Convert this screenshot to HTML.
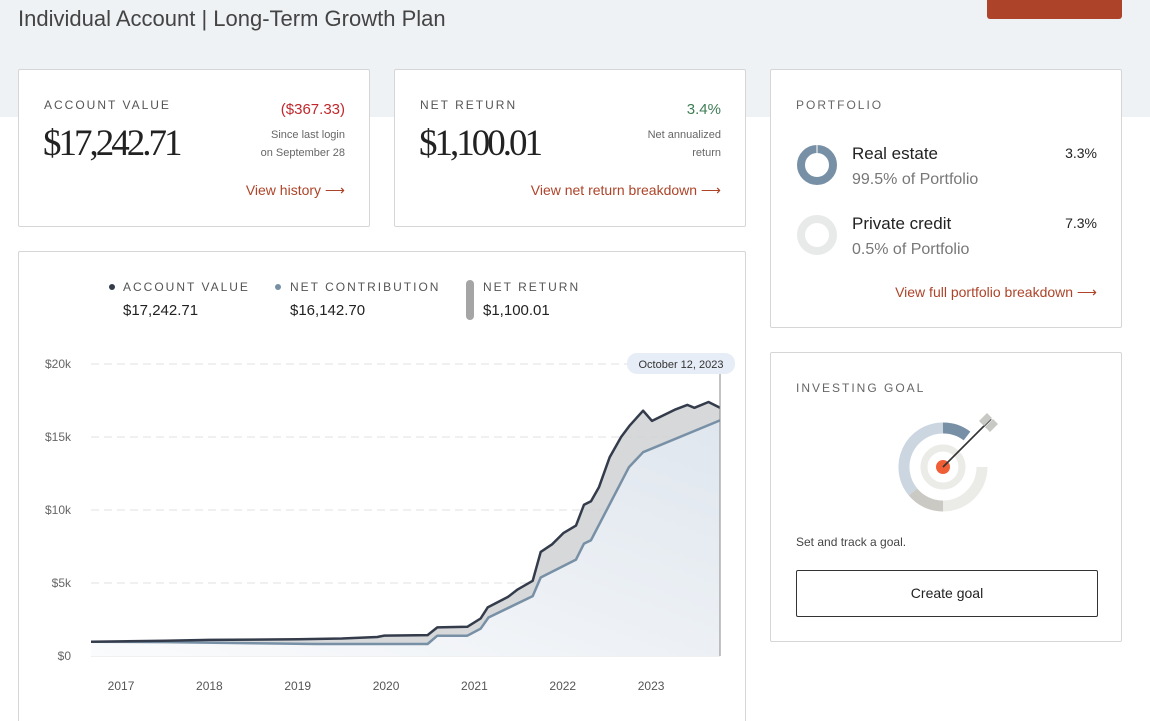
<!DOCTYPE html>
<html><head><meta charset="utf-8">
<style>
*{box-sizing:border-box;margin:0;padding:0}
html,body{width:1150px;height:721px;overflow:hidden}
body{background:#fff;font-family:"Liberation Sans",sans-serif;color:#222;position:relative}
.band{position:absolute;left:0;top:0;width:1150px;height:117px;background:#eef2f5}
.card{position:absolute;background:#fff;border:1px solid #d6d6d6;border-radius:2px}
.abs{position:absolute;white-space:nowrap}
.lbl{font-size:12px;letter-spacing:2px;color:#555}
.serif{font-family:"Liberation Serif",serif;letter-spacing:-3px;color:#222}
.link{color:#ad4429;font-size:14px}
.small{font-size:11px;color:#666;text-align:right}
</style></head><body>
<div class="band"></div>
<div class="abs" style="left:18px;top:6px;font-size:22px;color:#444;font-weight:300">Individual Account | Long-Term Growth Plan</div>
<div class="abs" style="left:987px;top:-10px;width:135px;height:29px;background:#ad4429;border-radius:3px"></div>

<div class="card" style="left:18px;top:69px;width:352px;height:158px">
 <div class="abs lbl" style="left:25px;top:28px">ACCOUNT VALUE</div>
 <div class="abs serif" style="left:24px;top:52px;font-size:37px">$17,242.71</div>
 <div class="abs" style="right:24px;top:31px;font-size:15px;color:#c0282c">($367.33)</div>
 <div class="abs small" style="right:24px;top:56px;line-height:18px">Since last login<br>on September 28</div>
 <div class="abs link" style="right:24px;top:112px">View history ⟶</div>
</div>
<div class="card" style="left:394px;top:69px;width:352px;height:158px">
 <div class="abs lbl" style="left:25px;top:28px">NET RETURN</div>
 <div class="abs serif" style="left:24px;top:52px;font-size:37px">$1,100.01</div>
 <div class="abs" style="right:24px;top:31px;font-size:15px;color:#3f7d55">3.4%</div>
 <div class="abs small" style="right:24px;top:56px;line-height:18px">Net annualized<br>return</div>
 <div class="abs link" style="right:24px;top:112px">View net return breakdown ⟶</div>
</div>

<div class="card" style="left:770px;top:69px;width:352px;height:259px">
 <div class="abs lbl" style="left:25px;top:28px;color:#666">PORTFOLIO</div>
 <svg class="abs" style="left:25px;top:74px" width="42" height="42"><circle cx="21" cy="21" r="16" fill="none" stroke="#7890a6" stroke-width="8"/><line x1="21" y1="0" x2="21" y2="9" stroke="#fff" stroke-width="1"/></svg>
 <div class="abs" style="left:81px;top:74px;font-size:17px;color:#222">Real estate</div>
 <div class="abs" style="left:81px;top:101px;font-size:16px;color:#777">99.5% of Portfolio</div>
 <div class="abs" style="right:24px;top:75px;font-size:14px">3.3%</div>
 <svg class="abs" style="left:25px;top:144px" width="42" height="42"><circle cx="21" cy="21" r="16" fill="none" stroke="#e8e9e9" stroke-width="8"/></svg>
 <div class="abs" style="left:81px;top:144px;font-size:17px;color:#222">Private credit</div>
 <div class="abs" style="left:81px;top:171px;font-size:16px;color:#777">0.5% of Portfolio</div>
 <div class="abs" style="right:24px;top:145px;font-size:14px">7.3%</div>
 <div class="abs link" style="right:24px;top:214px">View full portfolio breakdown ⟶</div>
</div>

<div class="card" style="left:770px;top:352px;width:352px;height:290px">
 <div class="abs lbl" style="left:25px;top:28px;color:#666">INVESTING GOAL</div>
 <svg class="abs" style="left:120px;top:60px" width="110" height="110">
  <g transform="translate(52,54)">
   <path d="M0,-39 A39,39 0 0 0 -30,25" fill="none" stroke="#ccd6e0" stroke-width="11"/>
   <path d="M0,-39 A39,39 0 0 1 24,-31" fill="none" stroke="#7890a6" stroke-width="11"/>
   <path d="M-30,25 A39,39 0 0 0 0,39" fill="none" stroke="#cbc9c4" stroke-width="11"/>
   <path d="M0,39 A39,39 0 0 0 39,0" fill="none" stroke="#ebebe8" stroke-width="11"/>
   <circle r="19" fill="none" stroke="#ebebe8" stroke-width="7"/>
   <circle r="7" fill="#ef5e35"/>
   <line x1="0" y1="0" x2="48" y2="-48" stroke="#333" stroke-width="1.6"/>
   <path d="M36,-46 l8,-8 5,5 -8,8 z M42,-40 l8,-8 5,5 -8,8z" fill="#c8c8c4"/>
  </g>
 </svg>
 <div class="abs" style="left:25px;top:182px;font-size:12px;color:#444">Set and track a goal.</div>
 <div class="abs" style="left:25px;top:217px;width:302px;height:47px;border:1px solid #333;border-radius:2px;text-align:center;line-height:45px;font-size:14px">Create goal</div>
</div>

<div class="card" style="left:18px;top:251px;width:728px;height:500px">
 <svg class="abs" style="left:88px;top:30px" width="10" height="10"><circle cx="5" cy="5" r="3" fill="#343c4c"/></svg>
 <div class="abs lbl" style="left:104px;top:28px">ACCOUNT VALUE</div>
 <div class="abs" style="left:104px;top:50px;font-size:15px">$17,242.71</div>
 <svg class="abs" style="left:254px;top:30px" width="10" height="10"><circle cx="5" cy="5" r="3" fill="#7890a6"/></svg>
 <div class="abs lbl" style="left:271px;top:28px">NET CONTRIBUTION</div>
 <div class="abs" style="left:271px;top:50px;font-size:15px">$16,142.70</div>
 <div class="abs" style="left:447px;top:28px;width:8px;height:40px;background:#a5a5a5;border-radius:4px"></div>
 <div class="abs lbl" style="left:464px;top:28px">NET RETURN</div>
 <div class="abs" style="left:464px;top:50px;font-size:15px">$1,100.01</div>
</div>

<svg id="chart" class="abs" style="left:0;top:0" width="1150" height="721">
 <defs><linearGradient id="g" x1="0" y1="1" x2="1" y2="0"><stop offset="0" stop-color="#fafbfc"/><stop offset="1" stop-color="#dfe6ee"/></linearGradient></defs>
</svg>
<script>
const avT=[2016.66,2017.5,2018,2018.5,2019,2019.5,2019.9,2019.98,2020.47,2020.58,2020.92,2021.07,2021.15,2021.38,2021.49,2021.66,2021.75,2021.88,2022.01,2022.15,2022.24,2022.32,2022.41,2022.53,2022.66,2022.76,2022.91,2023.01,2023.28,2023.41,2023.49,2023.65,2023.78];
const avV=[0.98,1.05,1.1,1.12,1.15,1.2,1.3,1.4,1.43,1.96,2.0,2.57,3.33,4.05,4.56,5.15,7.13,7.65,8.43,8.93,10.36,10.6,11.57,13.6,15.0,15.8,16.8,16.1,16.9,17.2,17.0,17.4,17.0];
const ncT=[2016.66,2017.5,2018.5,2019.2,2020.47,2020.58,2020.92,2021.07,2021.16,2021.66,2021.75,2022.15,2022.24,2022.32,2022.75,2022.91,2023.78];
const ncV=[0.98,0.95,0.88,0.82,0.82,1.39,1.39,1.87,2.64,4.1,5.38,6.6,7.7,7.93,12.94,13.96,16.14];
const yTicks=[0,5,10,15,20];
const yLabels=["$0","$5k","$10k","$15k","$20k"];
const xYears=[2017,2018,2019,2020,2021,2022,2023];
const X0=91,X1=720,T0=2016.66,T1=2023.78,Y0=656,Y1=364;
const sx=t=>X0+(t-T0)/(T1-T0)*(X1-X0);
const sy=v=>Y0-v/20*(Y0-Y1);
const svg=document.getElementById('chart');const NS='http://www.w3.org/2000/svg';
function mk(tag,attrs,txt){const e=document.createElementNS(NS,tag);for(const k in attrs)e.setAttribute(k,attrs[k]);if(txt!==undefined)e.textContent=txt;svg.appendChild(e);return e;}
yTicks.forEach((v,i)=>{
 const l=mk('line',{x1:91,x2:720,y1:sy(v),y2:sy(v),stroke:'#e2e2e2','stroke-dasharray':v===0?'':'8,5'});
 
 
 const t=mk('text',{x:71,y:sy(v)+4,'text-anchor':'end','font-size':12,fill:'#666','font-family':'Liberation Sans'},yLabels[i]);
 
 
});
xYears.forEach(y=>{
 const t=mk('text',{x:sx(y),y:690,'text-anchor':'middle','font-size':12,fill:'#555','font-family':'Liberation Sans'},String(y));
 
 
});
const pts=(T,V)=>T.map((t,i)=>sx(t).toFixed(1)+','+sy(V[i]).toFixed(1));
const ncP=pts(ncT,ncV),avP=pts(avT,avV);
const area=mk('polygon',{points:ncP.join(' ')+' '+sx(T1)+','+Y0+' '+sx(T0)+','+Y0,fill:'url(#g)'});


const band=mk('polygon',{points:avP.join(' ')+' '+ncP.slice().reverse().join(' '),fill:'#cfd1d4',opacity:0.85});


const nl=mk('polyline',{points:ncP.join(' '),fill:'none',stroke:'#7890a6','stroke-width':2.5,'stroke-linejoin':'round'});


const al=mk('polyline',{points:avP.join(' '),fill:'none',stroke:'#343c4c','stroke-width':2.5,'stroke-linejoin':'round'});


const cl=mk('line',{x1:sx(T1),x2:sx(T1),y1:372,y2:Y0,stroke:'#888','stroke-width':1});


const tb=mk('rect',{x:627,y:353,width:108,height:21,rx:10,fill:'#e6edf7'});


const tt=mk('text',{x:681,y:368,'text-anchor':'middle','font-size':11,fill:'#333','font-family':'Liberation Sans'},'October 12, 2023');


</script>
</body></html>
